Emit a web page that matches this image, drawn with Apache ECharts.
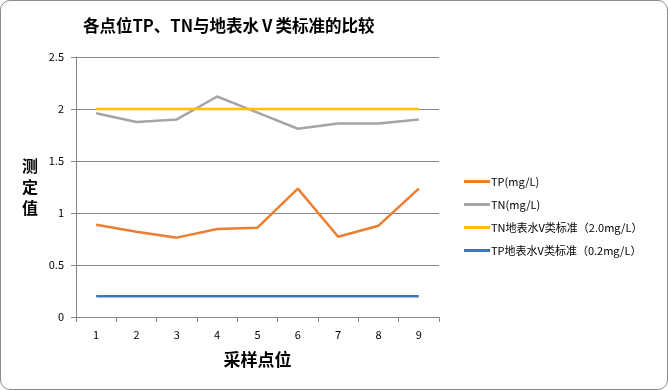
<!DOCTYPE html>
<html><head><meta charset="utf-8">
<script src="https://cdn.jsdelivr.net/npm/echarts@6/dist/echarts.min.js"></script>
<style>
html,body{margin:0;padding:0;background:#fff;}
#frame{position:absolute;left:0;top:0;width:666px;height:388px;border:1px solid #8c8c8c;border-radius:10px;box-sizing:content-box;overflow:hidden;}
#c{width:668px;height:390px;position:absolute;left:-1px;top:-1px;}
</style></head>
<body>
<div id="frame"><div id="c"></div></div>
<script>
const categories = ['1','2','3','4','5','6','7','8','9'];
const tpValues = [0.888, 0.82, 0.763, 0.846, 0.859, 1.234, 0.772, 0.878, 1.234];
const tnValues = [1.96, 1.875, 1.90, 2.12, 1.965, 1.81, 1.86, 1.86, 1.90];
const tnStandard = [2, 2, 2, 2, 2, 2, 2, 2, 2];
const tpStandard = [0.2, 0.2, 0.2, 0.2, 0.2, 0.2, 0.2, 0.2, 0.2];
const seriesNames = ['TP(mg/L)', 'TN(mg/L)', 'TN地表水V类标准（2.0mg/L）', 'TP地表水V类标准（0.2mg/L）'];
const colors = ['#ED7D31', '#A5A5A5', '#FFC000', '#4472C4'];

const chart = echarts.init(document.getElementById('c'));
const font = '"Noto Sans CJK SC", "Noto Sans", sans-serif';
function mk(name, data, color) {
  return { name, type: 'line', data, symbol: 'none', smooth: false,
    lineStyle: { color, width: 2.5 }, itemStyle: { color }, animation: false };
}
chart.setOption({
  animation: false,
  textStyle: { fontFamily: font },
  title: { text: '各点位TP、TN与地表水Ⅴ类标准的比较', left: 78, top: 12,
    textStyle: { fontFamily: font, fontSize: 16.5, fontWeight: 'bold', color: '#000' } },
  grid: { left: 76, right: 229, top: 57, bottom: 73, containLabel: false },
  legend: { orient: 'vertical', left: 459, top: 171, itemWidth: 26, itemHeight: 3, itemGap: 12,
    icon: 'rect',
    data: seriesNames.map((n, i) => ({ name: n, itemStyle: { color: colors[i] } })),
    textStyle: { fontFamily: font, fontSize: 11, color: '#000', padding: [0, 0, 0, -4] } },
  xAxis: { type: 'category', data: categories, boundaryGap: true,
    name: '采样点位', nameLocation: 'middle', nameGap: 34,
    nameTextStyle: { fontFamily: font, fontSize: 17, fontWeight: 'bold', color: '#000' },
    axisLine: { lineStyle: { color: '#868686', width: 1 } },
    axisTick: { show: true, inside: false, length: 5, alignWithLabel: false, lineStyle: { color: '#868686' } },
    axisLabel: { color: '#000', fontSize: 11, margin: 12, fontFamily: font } },
  yAxis: { type: 'value', min: 0, max: 2.5, interval: 0.5,
    name: '测\n定\n值', nameLocation: 'middle', nameGap: 38, nameRotate: 0,
    nameTextStyle: { fontFamily: font, fontSize: 16, fontWeight: 'bold', color: '#000', lineHeight: 21 },
    axisLine: { show: true, lineStyle: { color: '#868686', width: 1 } },
    axisTick: { show: true, length: 5, lineStyle: { color: '#868686' } },
    splitLine: { show: true, lineStyle: { color: '#868686', width: 1 } },
    axisLabel: { color: '#000', fontSize: 11, margin: 12, fontFamily: font } },
  series: [
    mk(seriesNames[0], tpValues, colors[0]),
    mk(seriesNames[1], tnValues, colors[1]),
    mk(seriesNames[2], tnStandard, colors[2]),
    mk(seriesNames[3], tpStandard, colors[3])
  ]
});
</script>
</body></html>
